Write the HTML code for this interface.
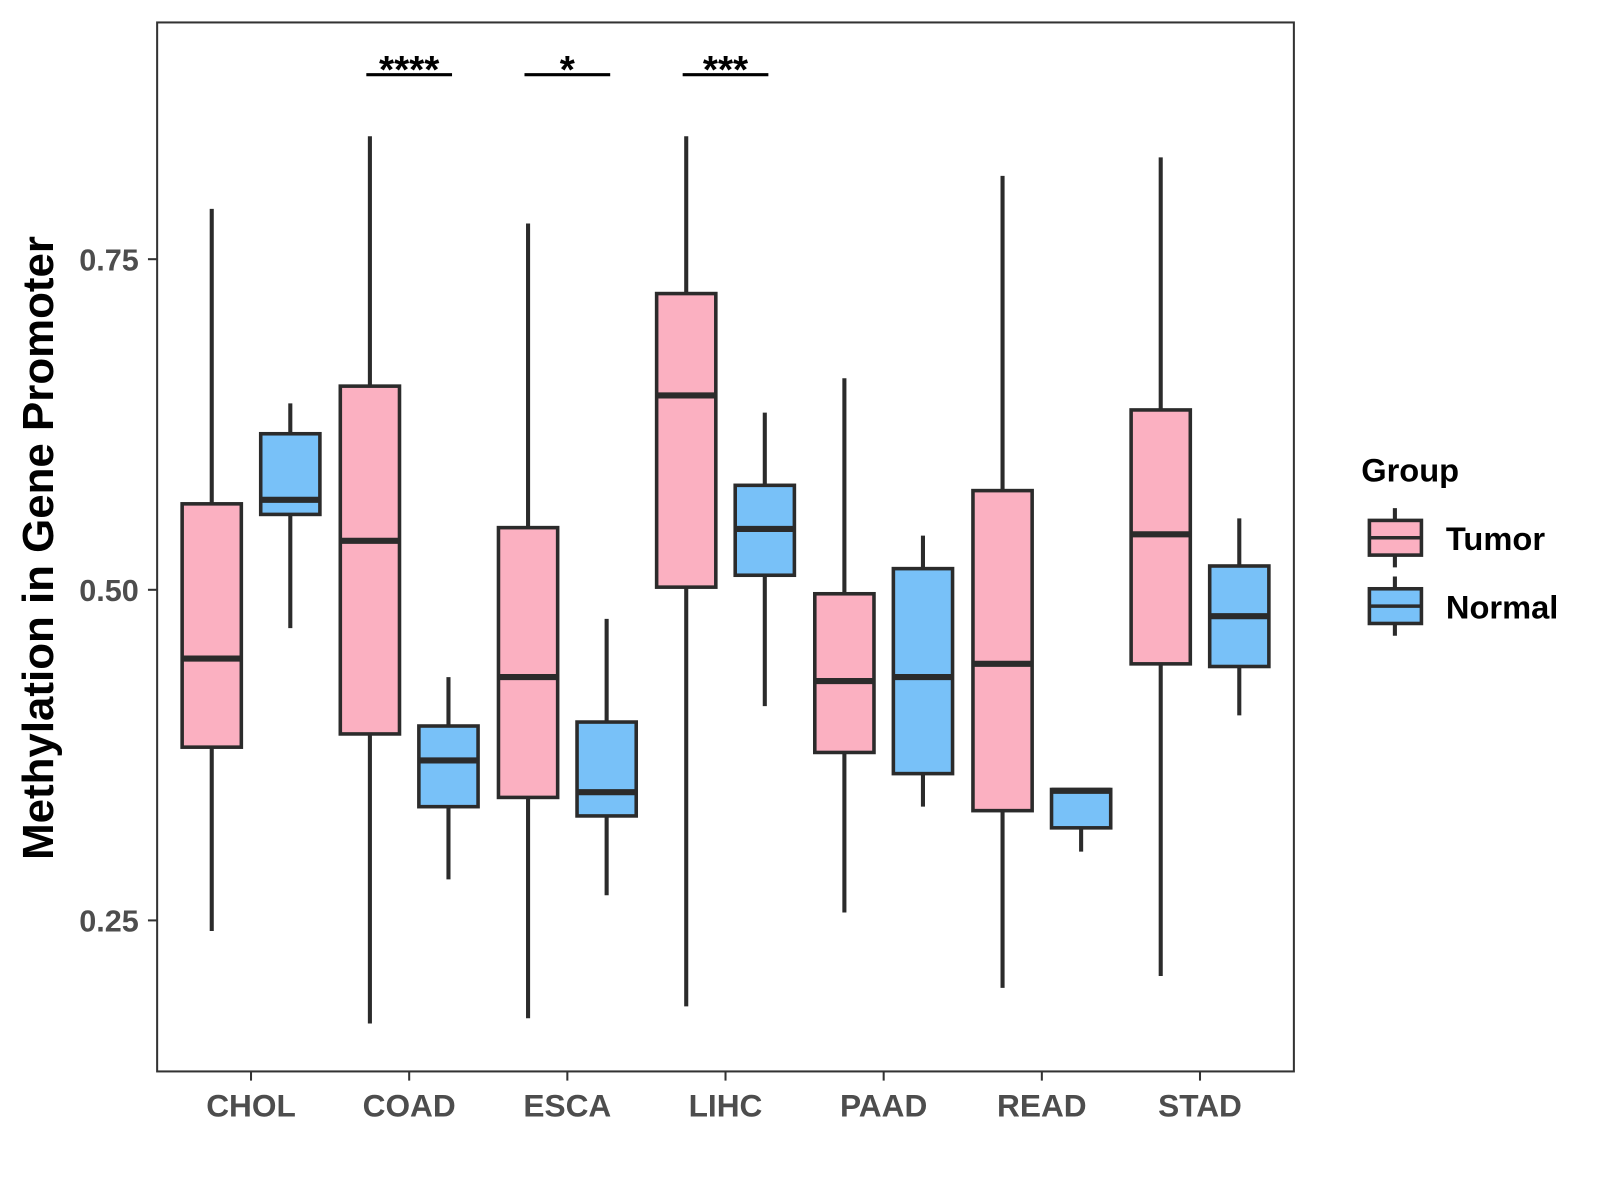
<!DOCTYPE html>
<html><head><meta charset="utf-8"><style>
html,body{margin:0;padding:0;background:#fff;}
svg{display:block;font-family:"Liberation Sans",Arial,sans-serif;}
</style></head><body>
<svg id="chart" width="1600" height="1200" viewBox="0 0 1568 1176">
<rect x="154" y="22" width="1114" height="1028" fill="#fff" stroke="#333" stroke-width="2"/>
<g id="marks"></g>
<g id="axes"></g>
<text transform="translate(52,537) rotate(-90)" text-anchor="middle" font-size="43" font-weight="bold" fill="#000">Methylation in Gene Promoter</text>
<g>
<text x="1334" y="472" font-size="32" font-weight="bold">Group</text>
<g>
<line x1="1367" y1="498" x2="1367" y2="556" stroke="#2b2b2b" stroke-width="4"/>
<rect x="1342" y="510" width="51" height="34" fill="#FBB0C1" stroke="#2b2b2b" stroke-width="3.5"/>
<line x1="1342" y1="527" x2="1393" y2="527" stroke="#2b2b2b" stroke-width="3.5"/>
<text x="1417" y="539" font-size="32" font-weight="bold">Tumor</text></g>
<g>
<line x1="1367" y1="565" x2="1367" y2="623" stroke="#2b2b2b" stroke-width="4"/>
<rect x="1342" y="577" width="51" height="34" fill="#78C1F8" stroke="#2b2b2b" stroke-width="3.5"/>
<line x1="1342" y1="594" x2="1393" y2="594" stroke="#2b2b2b" stroke-width="3.5"/>
<text x="1417" y="606" font-size="32" font-weight="bold">Normal</text></g>
</g>
</svg>
<script>
const categories=["CHOL","COAD","ESCA","LIHC","PAAD","READ","STAD"];
// [low, q1, median, q3, high]
const tumorStats=[[0.242,0.381,0.448,0.565,0.788],[0.172,0.391,0.537,0.654,0.843],[0.176,0.343,0.434,0.547,0.777],[0.185,0.502,0.647,0.724,0.843],[0.256,0.377,0.431,0.497,0.660],[0.199,0.333,0.444,0.575,0.813],[0.208,0.444,0.542,0.636,0.827]];
const normalStats=[[0.471,0.557,0.568,0.618,0.641],[0.281,0.336,0.371,0.397,0.434],[0.269,0.329,0.347,0.400,0.478],[0.412,0.511,0.546,0.579,0.634],[0.336,0.361,0.434,0.516,0.541],[0.302,0.320,0.348,0.349,0.349],[0.405,0.442,0.480,0.518,0.554]];
const yTicks=[0.25,0.5,0.75];
const yTickLabels=["0.25","0.50","0.75"];
const sigCategories=["COAD","ESCA","LIHC"];
const sigLabels=["****","*","***"];
const sigLevel=0.8895;

const NS="http://www.w3.org/2000/svg";
const y=v=>578-(v-0.5)*1296;
const x=i=>246+i*155;
function mk(tag,attrs,parent){const e=document.createElementNS(NS,tag);for(const k in attrs)e.setAttribute(k,attrs[k]);parent.appendChild(e);return e;}
const marks=document.getElementById('marks'),axes=document.getElementById('axes');
const ink="#2b2b2b";
function box(cx,s,fill,name){
  const g=mk('g',{},marks);
  
  
  mk('line',{x1:cx,x2:cx,y1:y(s[4]),y2:y(s[0]),stroke:ink,'stroke-width':4},g);
  mk('rect',{x:cx-29,width:58,y:y(s[3]),height:y(s[1])-y(s[3]),fill:fill,stroke:ink,'stroke-width':3.5},g);
  mk('line',{x1:cx-29,x2:cx+29,y1:y(s[2]),y2:y(s[2]),stroke:ink,'stroke-width':6},g);
}
categories.forEach((c,i)=>{
  box(x(i)-38.5,tumorStats[i],"#FBB0C1","box-tumor-"+c.toLowerCase());
  box(x(i)+38.5,normalStats[i],"#78C1F8","box-normal-"+c.toLowerCase());
  mk('line',{x1:x(i),x2:x(i),y1:1050,y2:1059,stroke:"#333",'stroke-width':2},axes);
  const t=mk('text',{x:x(i),y:1094,'text-anchor':'middle','font-size':31,'font-weight':'bold',fill:'#4d4d4d'},axes);
  t.textContent=c;
  
  
});
yTicks.forEach((v,i)=>{
  mk('line',{x1:145,x2:154,y1:y(v),y2:y(v),stroke:"#333",'stroke-width':2},axes);
  const t=mk('text',{x:136,y:y(v)+11,'text-anchor':'end','font-size':30,'font-weight':'bold',fill:'#4d4d4d'},axes);
  t.textContent=yTickLabels[i];
  
  
});
sigCategories.forEach((c,j)=>{
  const i=categories.indexOf(c);
  const g=mk('g',{},marks);
  
  
  mk('line',{x1:x(i)-42,x2:x(i)+42,y1:y(sigLevel),y2:y(sigLevel),stroke:'#000','stroke-width':3},g);
  const t=mk('text',{x:x(i),y:y(sigLevel)+8,'text-anchor':'middle','font-size':38,'font-weight':'bold'},g);
  t.textContent=sigLabels[j];
});
</script>
</body></html>
